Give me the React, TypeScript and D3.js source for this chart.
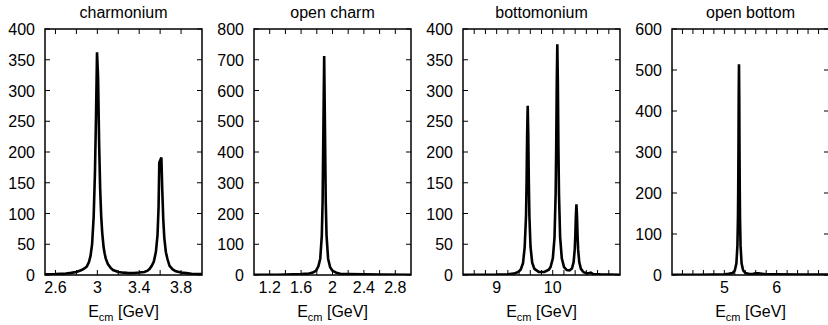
import React from "react";
import * as d3 from "d3";

// ---------- data ----------
const titles = ["charmonium", "open charm", "bottomonium", "open bottom"];

const xDomains: [number, number][] = [[2.5, 4.0], [1.0, 3.0], [8.4, 11.2], [4.0, 7.0]];
const yDomains: [number, number][] = [[0, 400], [0, 800], [0, 400], [0, 600]];
const yTickValues = [
  [0, 50, 100, 150, 200, 250, 300, 350, 400],
  [0, 100, 200, 300, 400, 500, 600, 700, 800],
  [0, 50, 100, 150, 200, 250, 300, 350, 400],
  [0, 100, 200, 300, 400, 500, 600],
];
const xLabelValues = [
  [2.6, 3.0, 3.4, 3.8],
  [1.2, 1.6, 2.0, 2.4, 2.8],
  [9, 10],
  [5, 6],
];
const xMinorStep = [0.2, 0.2, 0.2, 0.2];

// charmonium
const charmX = [2.5, 2.6, 2.7, 2.75, 2.8, 2.85, 2.88, 2.9, 2.92, 2.935, 2.95, 2.965, 2.977, 2.987, 2.997, 3.007, 3.017, 3.027, 3.037, 3.047, 3.06, 3.07, 3.08, 3.1, 3.125, 3.15, 3.2, 3.25, 3.3, 3.35, 3.4, 3.45, 3.48, 3.5, 3.52, 3.54, 3.56, 3.575, 3.585, 3.592, 3.612, 3.62, 3.63, 3.64, 3.655, 3.67, 3.69, 3.72, 3.75, 3.8, 3.85, 3.9, 4.0];
const charmY = [1, 1.5, 2.5, 3.5, 5, 8, 11, 14, 21, 31, 50, 95, 165, 255, 362, 322, 215, 140, 95, 68, 45, 35, 27, 18, 12, 8, 5, 3.8, 3, 3.2, 4, 5, 7, 10, 15, 22, 38, 65, 110, 183, 191, 140, 90, 60, 37, 26, 15, 9, 6, 4, 3, 2, 1.5];

// open charm
const openCharmX = [1.0, 1.3, 1.5, 1.6, 1.7, 1.75, 1.79, 1.82, 1.844, 1.864, 1.874, 1.884, 1.894, 1.904, 1.914, 1.924, 1.944, 1.97, 2.0, 2.05, 2.1, 2.2, 2.4, 2.6, 3.0];
const openCharmY = [0.5, 1, 2, 3, 5, 8, 14, 28, 53, 129, 238, 475, 712, 475, 238, 129, 53, 25, 14, 7, 4, 3, 2, 1.5, 1];

// bottomonium
const bottomX = [8.4, 9.0, 9.2, 9.3, 9.35, 9.4, 9.43, 9.47, 9.5, 9.524, 9.534, 9.544, 9.554, 9.564, 9.574, 9.584, 9.604, 9.634, 9.674, 9.75, 9.85, 9.93, 9.962, 10.002, 10.032, 10.052, 10.062, 10.072, 10.082, 10.092, 10.102, 10.112, 10.132, 10.162, 10.202, 10.25, 10.3, 10.343, 10.373, 10.393, 10.403, 10.413, 10.423, 10.433, 10.443, 10.453, 10.473, 10.503, 10.55, 10.62, 10.68, 10.72, 10.85, 11.2];
const bottomY = [0.3, 0.6, 1.2, 2.2, 3.5, 6, 9, 19, 45, 96, 151, 228, 275, 228, 151, 96, 46, 20, 10, 5, 5, 8.6, 13, 27, 61, 131, 205, 311, 375, 311, 205, 131, 62, 27, 13, 8, 7.4, 10.6, 21, 42, 64, 96, 115, 96, 64, 42, 21, 10, 4.5, 2.5, 4, 1.5, 1, 0.5];

// open bottom
const openBottomX = [4.0, 4.5, 4.8, 5.0, 5.08, 5.16, 5.2, 5.23, 5.25, 5.26, 5.265, 5.27, 5.275, 5.28, 5.285, 5.29, 5.295, 5.3, 5.31, 5.33, 5.36, 5.4, 5.48, 5.55, 5.6, 5.65, 5.72, 5.8, 6.0, 6.5, 7.0];
const openBottomY = [0.3, 0.5, 1, 1.8, 3, 5, 11, 28, 71, 136, 201, 303, 438, 514, 438, 303, 201, 136, 71, 28, 11, 5, 2.5, 3, 4, 4, 3, 2, 1.5, 1, 0.8];

const seriesX = [charmX, openCharmX, bottomX, openBottomX];
const seriesY = [charmY, openCharmY, bottomY, openBottomY];

// ---------- layout ----------
const W = 828;
const H = 325;
const frameLeft = [45, 254, 463, 672];
const frameWidth = 157;
const top = 29;
const bottom = 275;
const FONT = "'Liberation Sans', Arial, Helvetica, sans-serif";

function Panel({ i }: { i: number }) {
  const x0 = frameLeft[i];
  const x1 = x0 + frameWidth;
  const x = d3.scaleLinear().domain(xDomains[i]).range([x0, x1]);
  const y = d3.scaleLinear().domain(yDomains[i]).range([bottom, top]);
  const [a, b] = xDomains[i];
  const step = xMinorStep[i];
  const minor = d3
    .range(Math.ceil(a / step + 1e-6), Math.floor(b / step - 1e-6) + 1)
    .map((k) => k * step)
    .filter((v) => v > a + 1e-6 && v < b - 1e-6);
  const pts = seriesX[i].map((xv, k) => [xv, seriesY[i][k]] as [number, number]);
  const line = d3
    .line<[number, number]>()
    .x((d) => x(d[0]))
    .y((d) => y(d[1]))
    .curve(d3.curveLinear);
  const tl = 5;
  const cx = (x0 + x1) / 2;
  const fmt = (v: number) => (Number.isInteger(v) ? String(v) : v.toFixed(1));
  return (
    <g>
      <defs>
        <clipPath id={`clip${i}`}>
          <rect x={x0} y={top} width={frameWidth} height={bottom - top} />
        </clipPath>
      </defs>
      {minor.map((v) => (
        <g key={`mx${v}`} stroke="#000" strokeWidth={1}>
          <line x1={x(v)} x2={x(v)} y1={bottom} y2={bottom - tl} />
          <line x1={x(v)} x2={x(v)} y1={top} y2={top + tl} />
        </g>
      ))}
      {yTickValues[i].map((v) => (
        <g key={`y${v}`}>
          <line x1={x0} x2={x0 + tl} y1={y(v)} y2={y(v)} stroke="#000" strokeWidth={1} />
          <line x1={x1} x2={x1 - tl} y1={y(v)} y2={y(v)} stroke="#000" strokeWidth={1} />
          <text x={x0 - 10} y={y(v) + 6} textAnchor="end" fontSize={16} fontFamily={FONT} fill="#000">
            {v}
          </text>
        </g>
      ))}
      {xLabelValues[i].map((v) => (
        <text key={`xl${v}`} x={x(v)} y={293} textAnchor="middle" fontSize={16} fontFamily={FONT} fill="#000">
          {fmt(v)}
        </text>
      ))}
      <path d={line(pts) || ""} fill="none" stroke="#000" strokeWidth={2.6} strokeLinejoin="miter" strokeMiterlimit={4} clipPath={`url(#clip${i})`} />
      <rect x={x0} y={top} width={frameWidth} height={bottom - top} fill="none" stroke="#000" strokeWidth={1.5} />
      <text x={cx} y={18} textAnchor="middle" fontSize={16} fontFamily={FONT} fill="#000">
        {titles[i]}
      </text>
      <text x={cx} y={317} textAnchor="middle" fontSize={16} fontFamily={FONT} fill="#000">
        E<tspan fontSize={11} dy={3.5}>cm</tspan>
        <tspan dy={-3.5}> [GeV]</tspan>
      </text>
    </g>
  );
}

export default function App() {
  return (
    <svg
      width={W}
      height={H}
      viewBox={`0 0 ${W} ${H}`}
      style={{ position: "absolute", left: 0, top: 0, background: "#fff" }}
    >
      <rect x={0} y={0} width={W} height={H} fill="#fff" />
      {[0, 1, 2, 3].map((i) => (
        <Panel key={i} i={i} />
      ))}
    </svg>
  );
}
